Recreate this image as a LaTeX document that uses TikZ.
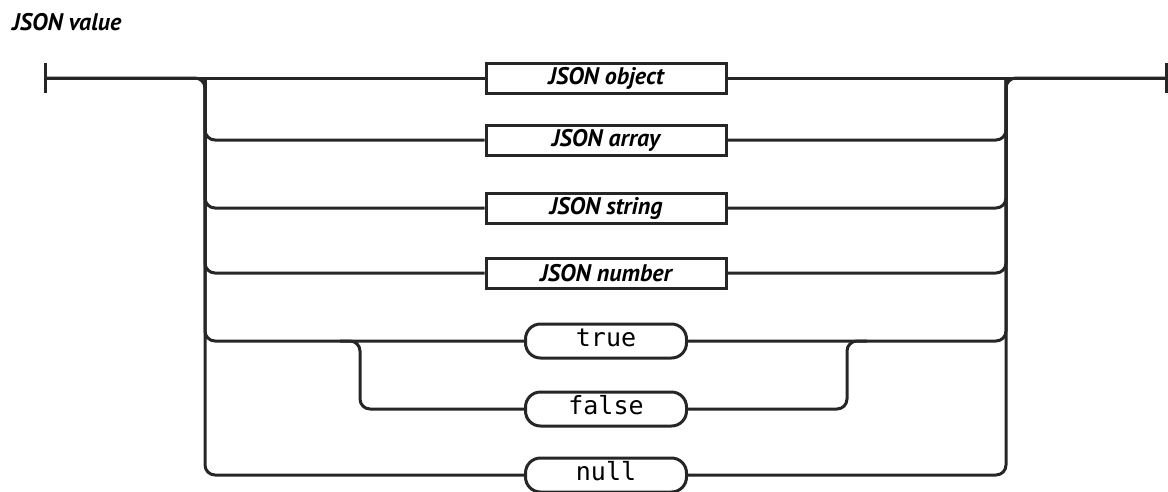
\documentclass[tikz,border=0pt]{standalone}
\usepackage{fontspec}
\newfontfamily\labelfont{PT Sans}
\newfontfamily\codefont{DejaVu Sans Mono}
\usetikzlibrary{calc}
\colorlet{rail edge}{black!85}
\tikzset{
  rail/.style={draw=rail edge, line width=3pt, rounded corners=10pt},
  endbar/.style={draw=rail edge, line width=3pt}
  }
\tikzstyle{rule} = [draw=rail edge, line width=3pt, fill=white, minimum width=240pt, minimum height=30pt, inner sep=0pt, font=\labelfont\bfseries\itshape\fontsize{24}{24}\selectfont]
\tikzstyle{token}=[draw=rail edge, line width=3pt, fill=white, rounded corners=15pt, minimum width=161pt, minimum height=34pt, inner sep=0pt, font=\codefont\fontsize{25}{25}\selectfont]

\begin{document}
\begin{tikzpicture}[x=1pt, y=-1pt]
       \useasboundingbox (0,0) rectangle (1168,491);
       \node[anchor=base west, font=\labelfont\bfseries\itshape\fontsize{24}{24}\selectfont, inner sep=0pt] (title) at (12,30) {JSON value};

       \coordinate (start) at (45,78);
       \coordinate (end) at (1166,78);
       \coordinate (lsplit) at (205,78);
       \coordinate (rsplit) at (1006,78);
       \coordinate (ltsplit) at (360,341);
       \coordinate (rtsplit) at (847,341);

       \foreach \y/\name/\txt in {78/obj/JSON object, 140/arr/JSON array, 208/str/JSON string, 273/num/JSON number} {
           \node[rule] (\name) at (606,\y) {\txt};
       }
       \foreach \y/\name/\txt in {341/tru/true, 409/fal/false, 475/nul/null} {
           \node[token] (\name) at (606,\y) {\strut\txt};
       }

       % end bars
       \draw[endbar] ($(start)+(0,-15)$) -- ($(start)+(0,15)$);
       \draw[endbar] ($(end)+(0,-15)$) -- ($(end)+(0,15)$);

       % main line and outer trunks
       \draw[rail] (start) -- (obj.west);
       \draw[rail] (obj.east) -- (end);
       \draw[rail] (start) -| (lsplit |- nul) -- (nul.west);
       \draw[rail] (nul.east) -| (rsplit) -- (end);
       \foreach \name in {arr, str, num, tru} {
           \draw[rail] (lsplit) |- (\name.west);
           \draw[rail] (\name.east) -| (rsplit);
       }

       % true / false
       \draw[rail] ($(ltsplit)+(-20,0)$) -| (ltsplit |- fal) -- (fal.west);
       \draw[rail] (fal.east) -| (rtsplit) -- ++(20,0);
\end{tikzpicture}
\end{document}
